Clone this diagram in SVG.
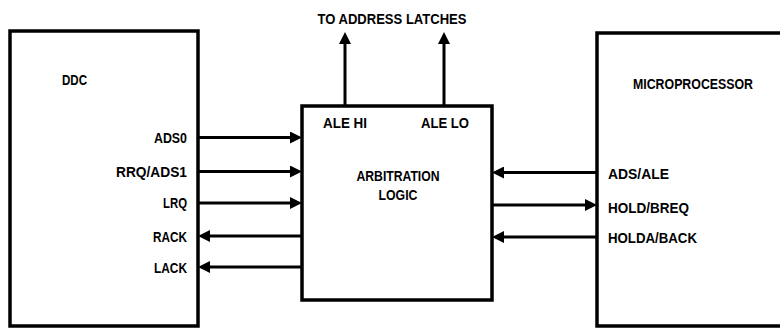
<svg xmlns="http://www.w3.org/2000/svg" width="780" height="328" viewBox="0 0 780 328">
<defs>
<style>
.box{fill:#fff;stroke:#000;stroke-width:3.5}
.ln{fill:none;stroke:#000;stroke-width:3;marker-end:url(#ah)}
text{font-family:"Liberation Sans",Arial,sans-serif;font-weight:bold;font-size:15.5px;fill:#000}
.r{text-anchor:end}
.m{text-anchor:middle}
</style>
<marker id="ah" viewBox="0 0 12 12" refX="0" refY="6" markerWidth="12" markerHeight="12" markerUnits="userSpaceOnUse" orient="auto">
<path d="M0,0 L12,6 L0,12 z" fill="#000"/>
</marker>
</defs>
<rect width="780" height="328" fill="#fff"/>
<g id="ddc">
<rect class="box" x="10" y="31" width="188" height="295"/>
<text x="62" y="85" textLength="25" lengthAdjust="spacingAndGlyphs">DDC</text>
<text class="r" x="187" y="143" textLength="33" lengthAdjust="spacingAndGlyphs">ADS0</text>
<text class="r" x="187" y="177" textLength="71" lengthAdjust="spacingAndGlyphs">RRQ/ADS1</text>
<text class="r" x="187" y="208" textLength="24" lengthAdjust="spacingAndGlyphs">LRQ</text>
<text class="r" x="187" y="242" textLength="34" lengthAdjust="spacingAndGlyphs">RACK</text>
<text class="r" x="187" y="273" textLength="33" lengthAdjust="spacingAndGlyphs">LACK</text>
</g>
<g id="arbitration">
<rect class="box" x="302" y="106" width="190" height="194"/>
<text x="323" y="128" textLength="44" lengthAdjust="spacingAndGlyphs">ALE HI</text>
<text x="421" y="128" textLength="48" lengthAdjust="spacingAndGlyphs">ALE LO</text>
<text class="m" x="398" y="181" textLength="83" lengthAdjust="spacingAndGlyphs">ARBITRATION</text>
<text class="m" x="398" y="200" textLength="39" lengthAdjust="spacingAndGlyphs">LOGIC</text>
</g>
<g id="microprocessor">
<path class="box" d="M780,33 H597 V326 H780"/>
<text x="633" y="89" style="font-size:14px" textLength="120" lengthAdjust="spacingAndGlyphs">MICROPROCESSOR</text>
<text x="608" y="179" textLength="61" lengthAdjust="spacingAndGlyphs">ADS/ALE</text>
<text x="608" y="213" textLength="81" lengthAdjust="spacingAndGlyphs">HOLD/BREQ</text>
<text x="608" y="243" textLength="89" lengthAdjust="spacingAndGlyphs">HOLDA/BACK</text>
</g>
<g id="latches-label">
<text class="m" x="392" y="24" textLength="149" lengthAdjust="spacingAndGlyphs">TO ADDRESS LATCHES</text>
</g>
<g id="connectors">
<line class="ln" x1="345" y1="106" x2="345" y2="44"/>
<line class="ln" x1="444" y1="106" x2="444" y2="44"/>
<line class="ln" x1="198" y1="137.5" x2="290" y2="137.5"/>
<line class="ln" x1="198" y1="171.5" x2="290" y2="171.5"/>
<line class="ln" x1="198" y1="203" x2="290" y2="203"/>
<line class="ln" x1="302" y1="236" x2="210" y2="236"/>
<line class="ln" x1="302" y1="267" x2="210" y2="267"/>
<line class="ln" x1="597" y1="172.5" x2="504" y2="172.5"/>
<line class="ln" x1="492" y1="205" x2="585" y2="205"/>
<line class="ln" x1="597" y1="237" x2="504" y2="237"/>
</g>
</svg>
